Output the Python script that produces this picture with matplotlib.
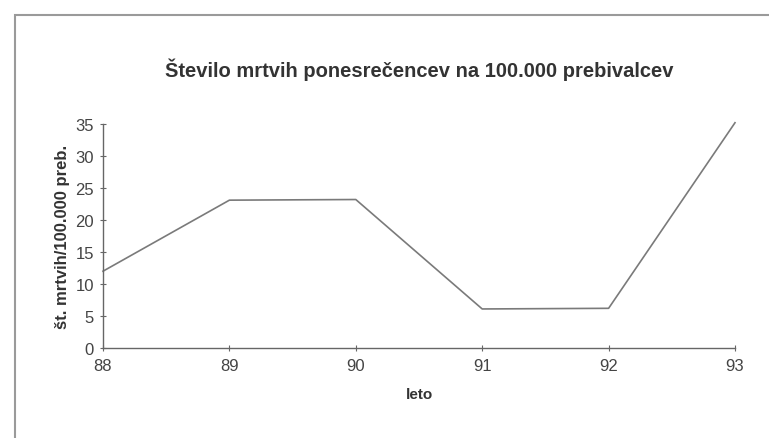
import matplotlib.pyplot as plt
from matplotlib.patches import Rectangle

# data
leta = [88, 89, 90, 91, 92, 93]
mrtvi = [12.0, 23.1, 23.2, 6.1, 6.2, 35.2]
y_ticks = [0, 5, 10, 15, 20, 25, 30, 35]

plt.rcParams['font.family'] = ['Liberation Sans', 'DejaVu Sans']

fig = plt.figure(figsize=(7.69, 4.39), dpi=100)

# outer frame of the chart area (right and bottom edges fall off the scan)
frame = Rectangle((15 / 769, -0.05), 1.2, 1 - 16 / 439 + 0.05, transform=fig.transFigure,
                  fill=False, edgecolor='#9a9a9a', linewidth=1.5)
fig.patches.append(frame)

ax = fig.add_axes([103 / 769, (439 - 349) / 439, 632 / 769, 224 / 439])
ax.plot(leta, mrtvi, color='#7a7a7a', linewidth=1.2, clip_on=False)

ax.set_xlim(88, 93)
ax.set_ylim(0, 35)
ax.set_xticks(leta)
ax.set_yticks(y_ticks)

for s in ['top', 'right']:
    ax.spines[s].set_visible(False)
for s in ['left', 'bottom']:
    ax.spines[s].set_color('#666666')
    ax.spines[s].set_linewidth(1.0)

ax.tick_params(direction='inout', length=5, width=0.8, colors='#666666',
               labelcolor='#444444', labelsize=12)
ax.tick_params(axis='x', pad=5)
ax.tick_params(axis='y', pad=4)

ax.set_xlabel('leto', fontsize=11, fontweight='bold', color='#333333', labelpad=10)
ax.set_ylabel('št. mrtvih/100.000 preb.', fontsize=12, fontweight='bold',
              color='#333333', labelpad=4)

fig.text(419 / 769, 1 - 70 / 439, 'Število mrtvih ponesrečencev na 100.000 prebivalcev',
         ha='center', va='center', fontsize=14.5, fontweight='bold', color='#333333')

fig.savefig('out.png', dpi=100)
